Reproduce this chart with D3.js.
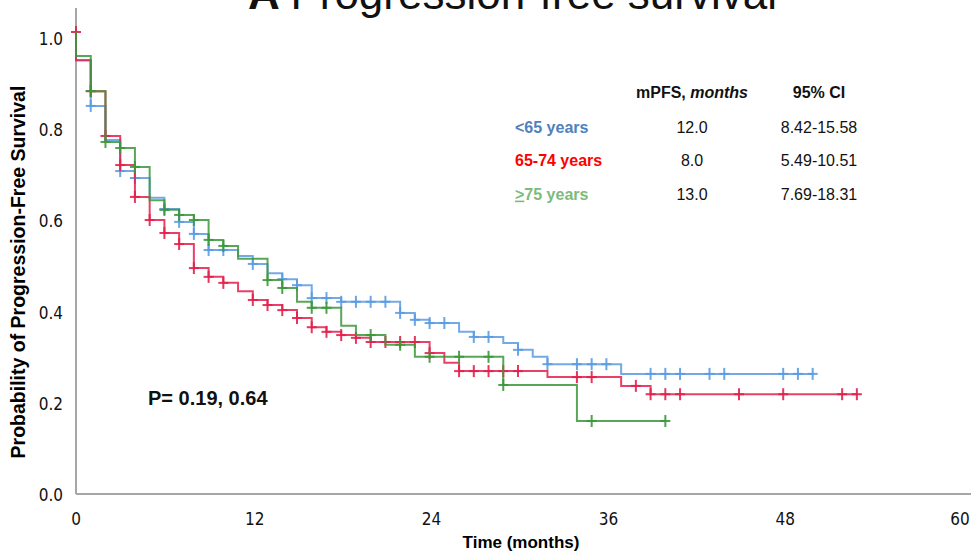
<!DOCTYPE html>
<html>
<head>
<meta charset="utf-8">
<script src="https://cdn.jsdelivr.net/npm/d3@7"></script>
<style>
  body { margin: 0; background: #fff; }
  text { font-family: "Liberation Sans", Arial, sans-serif; }
  .tick-label { font-family: "Liberation Sans Narrow", "DejaVu Sans Condensed", "Liberation Sans", sans-serif; font-size: 17px; fill: #111; }
</style>
</head>
<body>
<script>
// axis ticks
const monthTicks = [0, 12, 24, 36, 48, 60];
const probTicks = [0, 0.2, 0.4, 0.6, 0.8, 1.0];

// <65 years : step times (months) and survival after each step
const youngTimes = [0, 1, 2, 3, 4, 5, 6, 7, 8, 9, 11, 12, 13, 14, 15, 16, 18, 22, 23, 24, 26, 27, 29, 30, 31, 32, 37];
const youngSurv  = [0.939, 0.840, 0.766, 0.699, 0.684, 0.641, 0.617, 0.589, 0.563, 0.528, 0.515, 0.498, 0.478, 0.465, 0.452, 0.424, 0.416, 0.392, 0.377, 0.370, 0.351, 0.340, 0.327, 0.312, 0.297, 0.281, 0.260];
const youngCensor = [1, 3, 4, 6, 7, 8, 9, 10, 12, 14, 15, 16, 17, 18, 19, 20, 21, 22, 23, 24, 25, 27, 28, 30, 32, 34, 35, 36, 39, 40, 41, 43, 44, 48, 49, 50];
const youngEnd = 50;

// 65-74 years
const midTimes = [0, 1, 2, 3, 4, 5, 6, 7, 8, 9, 10, 11, 12, 13, 14, 15, 16, 17, 18, 19, 20, 24, 25, 26, 32, 37, 39];
const midSurv  = [0.939, 0.872, 0.775, 0.712, 0.643, 0.593, 0.565, 0.541, 0.489, 0.470, 0.457, 0.439, 0.420, 0.409, 0.398, 0.381, 0.361, 0.351, 0.344, 0.338, 0.329, 0.305, 0.284, 0.266, 0.253, 0.234, 0.216];
const midCensor = [0, 1, 2, 3, 4, 5, 6, 7, 8, 9, 10, 12, 13, 14, 15, 16, 17, 18, 19, 20, 21, 22, 23, 24, 26, 27, 28, 29, 30, 34, 35, 38, 39, 40, 41, 45, 48, 52, 53];
const midEnd = 53;

// >=75 years
const oldTimes = [0, 1, 2, 3, 4, 5, 6, 7, 8, 9, 10, 11, 13, 14, 15, 16, 18, 19, 21, 23, 29, 34];
const oldSurv  = [0.948, 0.872, 0.762, 0.749, 0.708, 0.636, 0.615, 0.604, 0.593, 0.550, 0.537, 0.509, 0.463, 0.446, 0.416, 0.403, 0.364, 0.344, 0.323, 0.297, 0.236, 0.158];
const oldCensor = [1, 2, 3, 4, 6, 7, 8, 9, 10, 13, 14, 16, 17, 20, 22, 24, 26, 28, 29, 35, 40];
const oldEnd = 40;

// summary table
const groupLabels = ["<65 years", "65-74 years", "75 years"];
const medianPfs = ["12.0", "8.0", "13.0"];
const ciLabels = ["8.42-15.58", "5.49-10.51", "7.69-18.31"];

const w = 971, h = 551;

const svg = d3.select("body").append("svg")
    .attr("width", w)
    .attr("height", h);

// scales
const x = d3.scaleLinear().domain([0, 60]).range([76, 960]);
const y = d3.scaleLinear().domain([0, 1]).range([494, 32]);
// the tick labels sit a little off the plot grid in the original figure
const yLab = d3.scaleLinear().domain([0, 1]).range([495, 39]);

// cut-off title at the top
svg.append("text")
    .attr("x", 248)
    .attr("y", 9)
    .style("font-size", "44px")
    .style("fill", "#111")
    .call(t => {
        t.append("tspan").style("font-weight", "bold").text("A ");
        t.append("tspan").text("Progression-free survival");
    });

// axis lines
svg.append("line")
    .attr("x1", x(0)).attr("x2", x(0))
    .attr("y1", 8).attr("y2", y(0))
    .style("stroke", "#a6a6a6").style("stroke-width", 2);
svg.append("line")
    .attr("x1", x(0)).attr("x2", w)
    .attr("y1", y(0)).attr("y2", y(0))
    .style("stroke", "#a6a6a6").style("stroke-width", 2);

// y tick labels
svg.selectAll(".ylab")
    .data(probTicks)
    .enter()
    .append("text")
    .attr("class", "tick-label")
    .attr("text-anchor", "end")
    .attr("x", 63)
    .attr("y", d => yLab(d))
    .attr("dy", "0.35em")
    .text(d3.format(".1f"));

// x tick labels
svg.selectAll(".xlab")
    .data(monthTicks)
    .enter()
    .append("text")
    .attr("class", "tick-label")
    .attr("text-anchor", "middle")
    .attr("x", d => x(d) + (d > 0 && d < 60 ? 2 : 0))
    .attr("y", 519)
    .attr("dy", "0.35em")
    .text(d => d);

// axis titles
svg.append("text")
    .attr("text-anchor", "middle")
    .attr("x", 521)
    .attr("y", 542)
    .attr("dy", "0.35em")
    .style("font-weight", "bold")
    .style("font-size", "17px")
    .text("Time (months)");

svg.append("text")
    .attr("text-anchor", "middle")
    .attr("transform", "translate(18,272) rotate(-90)")
    .attr("dy", "0.35em")
    .style("font-weight", "bold")
    .style("font-size", "19.5px")
    .text("Probability of Progression-Free Survival");

// curves
const series = [
    { times: youngTimes, surv: youngSurv, censor: youngCensor, end: youngEnd, color: "#5a9be2" },
    { times: midTimes, surv: midSurv, censor: midCensor, end: midEnd, color: "#e3204d" },
    { times: oldTimes, surv: oldSurv, censor: oldCensor, end: oldEnd, color: "#3b983b" }
];

const line = d3.line()
    .x(d => x(d[0]))
    .y(d => y(d[1]))
    .curve(d3.curveStepAfter);

// survival at time t from the step arrays
function survAt(s, t) {
    let v = 1;
    s.times.forEach((tt, i) => { if (tt <= t) v = s.surv[i]; });
    return v;
}

series.forEach(s => {
    const pts = [[0, 1]];
    s.times.forEach((t, i) => pts.push([t, s.surv[i]]));
    pts.push([s.end, s.surv[s.surv.length - 1]]);

    svg.append("path")
        .datum(pts)
        .attr("d", line)
        .style("fill", "none")
        .style("stroke", s.color)
        .style("stroke-width", 2)
        .style("stroke-opacity", 0.85);

    const marks = svg.append("g").style("stroke", s.color).style("stroke-width", 2).style("stroke-opacity", 0.9);
    s.censor.forEach(t => {
        const v = t === 0 ? 1 : survAt(s, t);
        const cx = x(t), cy = y(v);
        marks.append("line").attr("x1", cx).attr("x2", cx).attr("y1", cy - 6).attr("y2", cy + 6);
        marks.append("line").attr("x1", cx - 5).attr("x2", cx + 5).attr("y1", cy).attr("y2", cy);
    });
});

// summary table
const colMed = 692, colCi = 819, colLab = 515;
const rowY = [127, 160, 194];
const labColors = ["#4f81bd", "#ff0000", "#7dbb7d"];

svg.append("text")
    .attr("x", colMed).attr("y", 92).attr("dy", "0.35em")
    .attr("text-anchor", "middle")
    .style("font-size", "16px").style("font-weight", "bold").style("fill", "#111")
    .call(t => {
        t.append("tspan").text("mPFS, ");
        t.append("tspan").style("font-style", "italic").text("months");
    });

svg.append("text")
    .attr("x", colCi).attr("y", 92).attr("dy", "0.35em")
    .attr("text-anchor", "middle")
    .style("font-size", "16px").style("font-weight", "bold").style("fill", "#111")
    .text("95% CI");

groupLabels.forEach((g, i) => {
    const lab = svg.append("text")
        .attr("x", colLab).attr("y", rowY[i]).attr("dy", "0.35em")
        .style("font-size", "16px").style("font-weight", "bold")
        .style("fill", labColors[i]);
    if (i === 2) {
        lab.append("tspan").style("text-decoration", "underline").text(">");
        lab.append("tspan").text(g);
    } else {
        lab.text(g);
    }

    svg.append("text")
        .attr("x", colMed).attr("y", rowY[i]).attr("dy", "0.35em")
        .attr("text-anchor", "middle")
        .style("font-size", "16px").style("fill", "#111")
        .text(medianPfs[i]);

    svg.append("text")
        .attr("x", colCi).attr("y", rowY[i]).attr("dy", "0.35em")
        .attr("text-anchor", "middle")
        .style("font-size", "16px").style("fill", "#111")
        .text(ciLabels[i]);
});

// p-value
svg.append("text")
    .attr("x", 148).attr("y", 398).attr("dy", "0.35em")
    .style("font-size", "20px").style("font-weight", "bold").style("fill", "#111")
    .text("P= 0.19, 0.64");
</script>
</body>
</html>
